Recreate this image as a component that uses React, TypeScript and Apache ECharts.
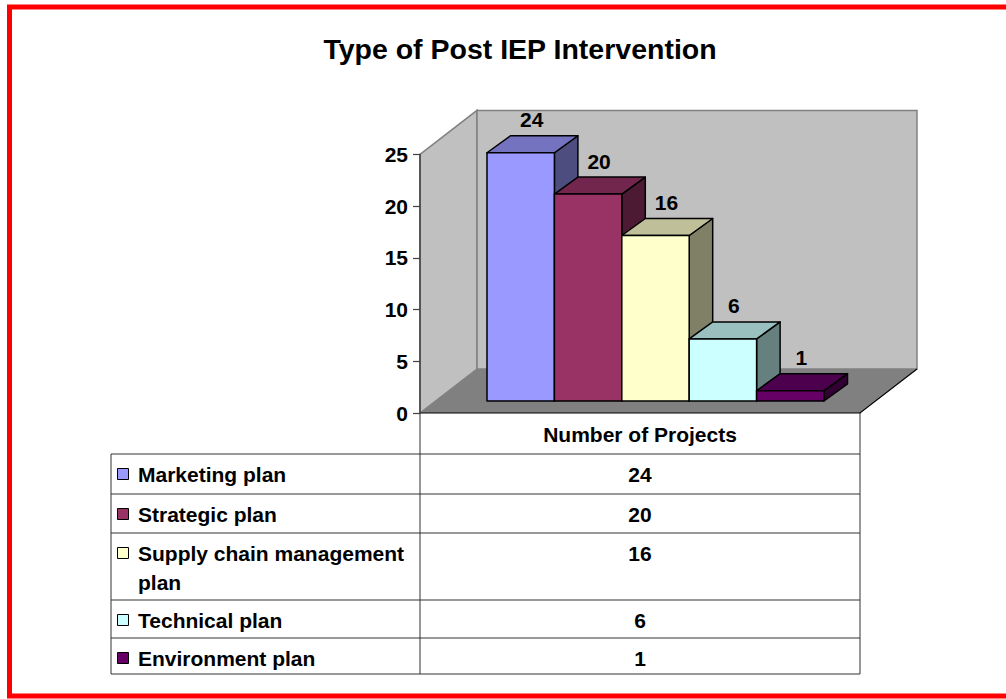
import React, { useEffect, useRef } from 'react';
import * as echarts from 'echarts';

// ---- data ----
const chartTitle = 'Type of Post IEP Intervention';
const seriesName = 'Number of Projects';
const categories = ['Marketing plan', 'Strategic plan', 'Supply chain management plan', 'Technical plan', 'Environment plan'];
const values = [24, 20, 16, 6, 1];
const frontColors = ['#9999FF', '#993366', '#FFFFCC', '#CCFFFF', '#660066'];
const topColors = ['#7373BF', '#73264D', '#BFBF99', '#99BFBF', '#4D004D'];
const sideColors = ['#4D4D80', '#4D1A33', '#808066', '#668080', '#330033'];
const yMin = 0;
const yMax = 25;
const yInterval = 5;

// ---- layout ----
const FONT = '"Liberation Sans", Arial, Helvetica, sans-serif';
const GRID_LEFT = 420;
const GRID_TOP = 154.4;
const GRID_W = 440;
const GRID_H = 258.6;
const XMIN = -1.264;
const XMAX = 5.264;
const DX = 57, DY = -44; // full depth of the 3D box
const OX = 15.5, OY = -12; // bars' front plane offset
const BX = 23.5, BY = -17; // bar depth
const TABLE_LEFT = 111;
const TABLE_RIGHT = GRID_LEFT + GRID_W;
const HEADER_TOP = GRID_TOP + GRID_H;
const HEADER_BOTTOM = 454;
const rowHeights = [40, 39, 67, 38, 36];

function buildTable(): any[] {
  const els: any[] = [];
  const lineStyle = { stroke: '#333333', lineWidth: 1 };
  const valueX = GRID_LEFT + GRID_W / 2;
  els.push({
    type: 'text', x: valueX, y: (HEADER_TOP + HEADER_BOTTOM) / 2 + 1,
    style: { text: seriesName, font: `bold 21px ${FONT}`, fill: '#000', align: 'center', verticalAlign: 'middle' },
  });
  let y = HEADER_BOTTOM;
  const rowTops: number[] = [];
  rowHeights.forEach((h) => { rowTops.push(y); y += h; });
  const bottom = y;
  els.push({ type: 'line', shape: { x1: GRID_LEFT, y1: HEADER_TOP, x2: GRID_LEFT, y2: bottom }, style: lineStyle });
  els.push({ type: 'line', shape: { x1: TABLE_RIGHT, y1: HEADER_TOP, x2: TABLE_RIGHT, y2: bottom }, style: lineStyle });
  els.push({ type: 'line', shape: { x1: TABLE_LEFT, y1: HEADER_BOTTOM, x2: TABLE_LEFT, y2: bottom }, style: lineStyle });
  [...rowTops, bottom].forEach((yy) => {
    els.push({ type: 'line', shape: { x1: TABLE_LEFT, y1: yy, x2: TABLE_RIGHT, y2: yy }, style: lineStyle });
  });
  categories.forEach((name, i) => {
    const top = rowTops[i];
    const cy = top + 20.5;
    els.push({
      type: 'rect', shape: { x: 117.5, y: cy - 6, width: 11, height: 11 },
      style: { fill: frontColors[i], stroke: '#000', lineWidth: 1 },
    });
    els.push({
      type: 'text', x: 138, y: cy - 14.5,
      style: {
        text: name, font: `bold 21px ${FONT}`, fill: '#000', align: 'left', verticalAlign: 'top',
        width: 275, overflow: 'break', lineHeight: 29,
      },
    });
    els.push({
      type: 'text', x: valueX, y: cy,
      style: { text: String(values[i]), font: `bold 21px ${FONT}`, fill: '#000', align: 'center', verticalAlign: 'middle' },
    });
  });
  return els;
}

export default function App() {
  const ref = useRef<HTMLDivElement>(null);
  useEffect(() => {
    if (!ref.current) return;
    const chart = echarts.init(ref.current, undefined, { renderer: 'svg' });
    const option: any = {
      animation: false,
      backgroundColor: '#FFFFFF',
      title: {
        text: chartTitle, left: 515, top: 29, textAlign: 'center',
        textStyle: { fontFamily: FONT, fontSize: 28.5, fontWeight: 'bold', color: '#000' },
      },
      grid: { left: GRID_LEFT, top: GRID_TOP, width: GRID_W, height: GRID_H, containLabel: false },
      xAxis: { type: 'value', min: XMIN, max: XMAX, show: false },
      yAxis: {
        type: 'value', min: yMin, max: yMax, interval: yInterval, z: 10,
        axisLine: { show: true, onZero: false, lineStyle: { color: '#404040', width: 1.5 } },
        axisTick: { show: true, length: 7, lineStyle: { color: '#404040', width: 1.2 } },
        axisLabel: { margin: 12, fontSize: 21, fontWeight: 'bold', fontFamily: FONT, color: '#000' },
        splitLine: { show: false },
      },
      series: [
        {
          type: 'custom',
          name: 'walls',
          silent: true,
          data: [[0, 0]],
          renderItem: (params: any, api: any) => {
            const a = api.coord([XMIN, yMin]);
            const b = api.coord([XMAX, yMin]);
            const c = api.coord([XMAX, yMax]);
            const d = api.coord([XMIN, yMax]);
            const sh = (p: number[]) => [p[0] + DX, p[1] + DY];
            return {
              type: 'group',
              children: [
                { type: 'polygon', shape: { points: [a, d, sh(d), sh(a)] }, style: { fill: '#C0C0C0', stroke: '#808080', lineWidth: 1.5 } },
                { type: 'polygon', shape: { points: [sh(a), sh(d), sh(c), sh(b)] }, style: { fill: '#C0C0C0', stroke: '#808080', lineWidth: 1.5 } },
                { type: 'polygon', shape: { points: [a, sh(a), sh(b), b] }, style: { fill: '#808080' } },
                { type: 'polyline', shape: { points: [a, b, sh(b)] }, style: { fill: null, stroke: '#000', lineWidth: 1.2 } },
              ],
            };
          },
        },
        {
          type: 'custom',
          name: seriesName,
          data: values.map((v, i) => [i, v]),
          renderItem: (params: any, api: any) => {
            const i = api.value(0);
            const v = api.value(1);
            const idx = params.dataIndex;
            const p0 = api.coord([i - 0.5, 0]);
            const p1 = api.coord([i + 0.5, v]);
            const x0 = p0[0] + OX, x1 = p1[0] + OX;
            const yb = p0[1] + OY, yt = p1[1] + OY;
            const stroke = { stroke: '#000', lineWidth: 1.5, lineJoin: 'round' };
            return {
              type: 'group',
              children: [
                { type: 'polygon', shape: { points: [[x1, yb], [x1, yt], [x1 + BX, yt + BY], [x1 + BX, yb + BY]] }, style: { fill: sideColors[idx], ...stroke } },
                { type: 'polygon', shape: { points: [[x0, yt], [x1, yt], [x1 + BX, yt + BY], [x0 + BX, yt + BY]] }, style: { fill: topColors[idx], ...stroke } },
                { type: 'rect', shape: { x: x0, y: yt, width: x1 - x0, height: yb - yt }, style: { fill: frontColors[idx], ...stroke } },
                {
                  type: 'text', x: (x0 + x1) / 2 + 11, y: yt + BY - 16,
                  style: { text: String(v), font: `bold 21px ${FONT}`, fill: '#000', align: 'center', verticalAlign: 'middle' },
                },
              ],
            };
          },
        },
      ],
      graphic: [
        ...buildTable(),
        {
          type: 'rect', silent: true, z: 100,
          shape: { x: 9.5, y: 7, width: 1010, height: 689 },
          style: { fill: 'none', stroke: '#FF0000', lineWidth: 5 },
        },
      ],
    };
    chart.setOption(option);
    return () => chart.dispose();
  }, []);
  return <div ref={ref} style={{ position: 'absolute', left: 0, top: 0, width: 1006, height: 699 }} />;
}
